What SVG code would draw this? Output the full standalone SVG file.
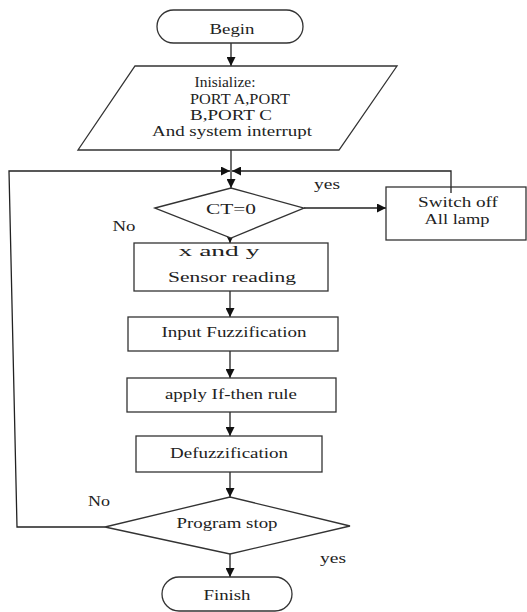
<svg xmlns="http://www.w3.org/2000/svg" width="527" height="612" viewBox="0 0 527 612">
<style>
.s{fill:#fff;stroke:#333;stroke-width:1.3}
.c{fill:none;stroke:#222;stroke-width:1.3}
text{font-family:"Liberation Serif","Times New Roman",serif;font-size:14px;fill:#222;text-anchor:middle}
.l{font-size:14px}
</style>
<defs>
<marker id="a" viewBox="0 0 10 10" refX="10" refY="5" markerWidth="10" markerHeight="9" markerUnits="userSpaceOnUse" orient="auto">
<path d="M0,0 L10,5 L0,10 z" fill="#111"/>
</marker>
</defs>
<g id="connectors">
<line class="c" x1="231" y1="43" x2="231" y2="66" marker-end="url(#a)"/>
<line class="c" x1="231" y1="150" x2="231" y2="188" marker-end="url(#a)"/>
<polyline class="c" points="105,527 17,527 9,171 230,171" marker-end="url(#a)"/>
<polyline class="c" points="451,193 451,171 232,171" marker-end="url(#a)"/>
<line class="c" x1="304" y1="208" x2="386" y2="208" marker-end="url(#a)"/>
<line class="c" x1="230" y1="238" x2="230" y2="243" marker-end="url(#a)"/>
<line class="c" x1="230" y1="291" x2="230" y2="317" marker-end="url(#a)"/>
<line class="c" x1="230" y1="351" x2="230" y2="378" marker-end="url(#a)"/>
<line class="c" x1="230" y1="412" x2="230" y2="436" marker-end="url(#a)"/>
<line class="c" x1="230" y1="472" x2="230" y2="497" marker-end="url(#a)"/>
<line class="c" x1="230" y1="554" x2="230" y2="577" marker-end="url(#a)"/>
<text class="l" x="327" y="189" textLength="26" lengthAdjust="spacingAndGlyphs">yes</text>
<text class="l" x="124" y="231" textLength="23" lengthAdjust="spacingAndGlyphs">No</text>
<text class="l" x="99" y="506" textLength="22" lengthAdjust="spacingAndGlyphs">No</text>
<text class="l" x="333" y="563" textLength="26" lengthAdjust="spacingAndGlyphs">yes</text>
</g>
<g id="begin">
<rect class="s" x="157" y="10" width="146" height="33" rx="16.5"/>
<text x="232" y="34" textLength="45" lengthAdjust="spacingAndGlyphs">Begin</text>
</g>
<g id="init">
<polygon class="s" points="135,66 397,66 339,150 78,150"/>
<text x="225" y="87" textLength="61" lengthAdjust="spacingAndGlyphs">Inisialize:</text>
<text x="240" y="104" textLength="100" lengthAdjust="spacingAndGlyphs">PORT A,PORT</text>
<text x="231" y="120" textLength="82" lengthAdjust="spacingAndGlyphs">B,PORT C</text>
<text x="232" y="136" textLength="160" lengthAdjust="spacingAndGlyphs">And system interrupt</text>
</g>
<g id="ct0">
<polygon class="s" points="155,208 231,188 304,208 231,238"/>
<text x="231" y="214" textLength="50" lengthAdjust="spacingAndGlyphs">CT=0</text>
</g>
<g id="switch">
<rect class="s" x="386" y="187" width="140" height="53"/>
<line class="c" x1="451" y1="187" x2="451" y2="193"/>
<text x="458" y="207" textLength="80" lengthAdjust="spacingAndGlyphs">Switch off</text>
<text x="457" y="224" textLength="65" lengthAdjust="spacingAndGlyphs">All lamp</text>
</g>
<g id="sensor">
<rect class="s" x="134" y="243" width="194" height="48"/>
<text x="219" y="256" textLength="81" lengthAdjust="spacingAndGlyphs">x and y</text>
<text x="232" y="282" textLength="128" lengthAdjust="spacingAndGlyphs">Sensor reading</text>
</g>
<g id="fuzz">
<rect class="s" x="128" y="317" width="210" height="34"/>
<text x="234" y="337" textLength="145" lengthAdjust="spacingAndGlyphs">Input Fuzzification</text>
</g>
<g id="rule">
<rect class="s" x="127" y="378" width="209" height="34"/>
<text x="231" y="399" textLength="132" lengthAdjust="spacingAndGlyphs">apply If-then rule</text>
</g>
<g id="defuzz">
<rect class="s" x="136" y="436" width="186" height="36"/>
<text x="229" y="458" textLength="118" lengthAdjust="spacingAndGlyphs">Defuzzification</text>
</g>
<g id="stop">
<polygon class="s" points="105,527 230,497 350,526 230,554"/>
<text x="227" y="528" textLength="101" lengthAdjust="spacingAndGlyphs">Program stop</text>
</g>
<g id="finish">
<rect class="s" x="162" y="577" width="130" height="34" rx="17"/>
<text x="227" y="600" textLength="47" lengthAdjust="spacingAndGlyphs">Finish</text>
</g>
</svg>
